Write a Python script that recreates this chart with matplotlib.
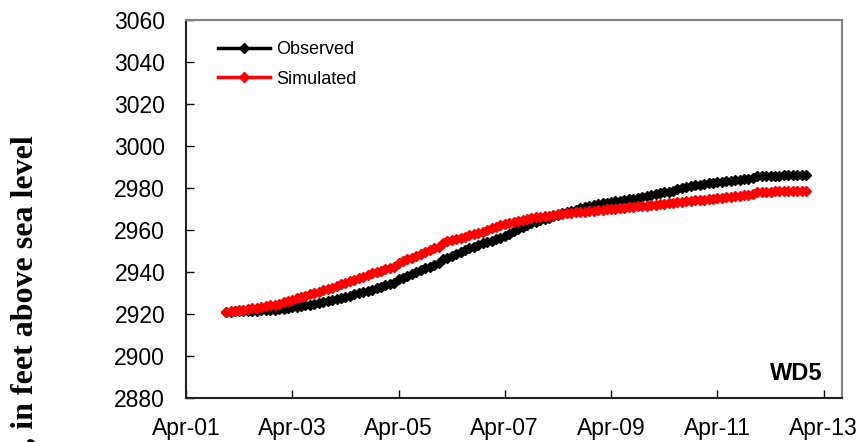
import matplotlib
matplotlib.use("Agg")
import matplotlib.pyplot as plt
import pandas as pd
import datetime as dt

# monthly dates, Jan 2002 - Dec 2012
dates = pd.date_range("2002-01-01", periods=132, freq="MS")

observed = [
    2921.0, 2921.1, 2921.2, 2921.2, 2921.3, 2921.4, 2921.5, 2921.6, 2921.7, 2921.8, 2922.0, 2922.1,
    2922.4, 2922.6, 2922.9, 2923.2, 2923.5, 2923.9, 2924.2, 2924.5, 2924.9, 2925.2, 2925.7, 2926.1,
    2926.6, 2927.1, 2927.7, 2928.2, 2928.8, 2929.3, 2929.9, 2930.4, 2931.0, 2931.6, 2932.2, 2932.9,
    2933.6, 2934.2, 2934.9, 2936.5, 2937.3, 2938.1, 2939.0, 2939.9, 2940.8, 2941.7, 2942.6, 2943.5,
    2944.4, 2946.0, 2946.9, 2947.8, 2948.6, 2949.5, 2950.3, 2951.2, 2952.0, 2952.9, 2953.6, 2954.3,
    2955.0, 2955.6, 2956.3, 2957.3, 2958.3, 2959.3, 2960.3, 2961.3, 2962.3, 2963.3, 2964.0, 2964.7,
    2965.3, 2965.9, 2966.6, 2967.3, 2968.0, 2968.6, 2969.2, 2969.7, 2970.3, 2970.8, 2971.3, 2971.8,
    2972.3, 2972.7, 2973.0, 2973.4, 2973.7, 2974.0, 2974.4, 2974.7, 2975.0, 2975.4, 2975.7, 2976.1,
    2976.6, 2977.0, 2977.4, 2977.9, 2978.3, 2978.8, 2979.3, 2979.9, 2980.4, 2980.9, 2981.3, 2981.6,
    2981.9, 2982.2, 2982.5, 2982.8, 2983.0, 2983.2, 2983.5, 2983.8, 2984.0, 2984.3, 2984.5, 2984.7,
    2985.5, 2985.6, 2985.7, 2985.8, 2985.9, 2985.9, 2986.0, 2986.0, 2986.1, 2986.1, 2986.2, 2986.2,
]

simulated = [
    2921.1, 2921.3, 2921.5, 2921.7, 2922.0, 2922.3, 2922.7, 2923.0, 2923.3, 2923.7, 2924.1, 2924.5,
    2925.0, 2925.6, 2926.2, 2926.8, 2927.4, 2928.0, 2928.7, 2929.3, 2930.0, 2930.6, 2931.2, 2931.9,
    2932.6, 2933.4, 2934.1, 2934.9, 2935.6, 2936.3, 2937.1, 2937.8, 2938.6, 2939.3, 2940.0, 2940.7,
    2941.3, 2941.9, 2942.5, 2944.3, 2945.2, 2946.0, 2946.9, 2947.7, 2948.6, 2949.5, 2950.3, 2951.2,
    2952.0, 2954.0, 2954.6, 2955.2, 2955.8, 2956.4, 2956.9, 2957.4, 2957.9, 2958.4, 2959.2, 2960.0,
    2960.8, 2961.6, 2962.4, 2962.9, 2963.4, 2963.9, 2964.3, 2964.8, 2965.3, 2965.7, 2966.0, 2966.3,
    2966.6, 2966.9, 2967.2, 2967.5, 2967.8, 2968.0, 2968.2, 2968.4, 2968.6, 2968.8, 2969.0, 2969.2,
    2969.4, 2969.6, 2969.8, 2970.0, 2970.2, 2970.4, 2970.6, 2970.8, 2971.0, 2971.2, 2971.4, 2971.6,
    2971.8, 2972.0, 2972.3, 2972.5, 2972.7, 2972.9, 2973.2, 2973.4, 2973.6, 2973.8, 2974.1, 2974.3,
    2974.5, 2974.7, 2975.0, 2975.2, 2975.4, 2975.7, 2975.9, 2976.1, 2976.3, 2976.6, 2976.8, 2977.0,
    2978.0, 2978.1, 2978.2, 2978.3, 2978.4, 2978.5, 2978.5, 2978.6, 2978.7, 2978.7, 2978.8, 2978.8,
]

tick_years = [2001, 2003, 2005, 2007, 2009, 2011, 2013]
tick_labels = ["Apr-01", "Apr-03", "Apr-05", "Apr-07", "Apr-09", "Apr-11", "Apr-13"]
y_ticks = [2880, 2900, 2920, 2940, 2960, 2980, 3000, 3020, 3040, 3060]

plt.rcParams["font.family"] = ["Liberation Sans", "DejaVu Sans"]

fig = plt.figure(figsize=(8.65, 4.42), dpi=100)
ax = fig.add_axes([186 / 865, 1 - 398 / 442, (842 - 186) / 865, (398 - 20) / 442])

ax.plot(dates, observed, color="black", lw=2, marker="D", ms=5.5, label="Observed", zorder=3)
ax.plot(dates, simulated, color="red", lw=2, marker="D", ms=5.5, label="Simulated", zorder=4)

ax.set_xlim(dt.datetime(2001, 4, 1), dt.datetime(2013, 8, 5))
ax.set_ylim(2880, 3060)
ax.set_xticks([dt.datetime(y, 4, 1) for y in tick_years])
ax.set_xticklabels(tick_labels)
ax.set_yticks(y_ticks)
ax.tick_params(direction="in", length=5.5, width=1, labelsize=16.5, colors="black")
ax.tick_params(axis="x", pad=14)
ax.tick_params(axis="y", pad=15)

for side in ["left", "bottom"]:
    ax.spines[side].set_color("#222222")
    ax.spines[side].set_linewidth(1.5)
for side in ["top", "right"]:
    ax.spines[side].set_color("#808080")
    ax.spines[side].set_linewidth(1.5)

leg = ax.legend(loc="upper left", bbox_to_anchor=((218 - 186) / 656, (398 - 41) / 378),
                frameon=False, fontsize=13, numpoints=1, handlelength=2.9,
                handletextpad=0.3, labelspacing=0.7, borderaxespad=0.0, borderpad=0.0)
for h in leg.legend_handles:
    h.set_linewidth(2.5)
    h.set_markersize(5)

ax.text(0.97, 0.065, "WD5", transform=ax.transAxes, ha="right", va="center",
        fontsize=17, fontweight="bold")

fig.text(24.5 / 865, 1 - 135 / 442, "Water level, in feet above sea level", rotation=90,
         ha="center", va="top", fontsize=23, fontweight="bold",
         family=["Liberation Serif", "DejaVu Serif"])

fig.savefig("out.png", dpi=100)
